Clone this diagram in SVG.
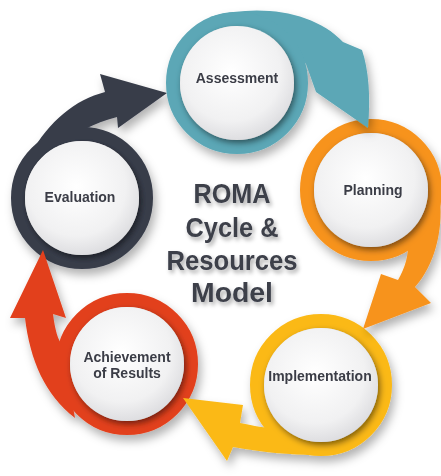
<svg xmlns="http://www.w3.org/2000/svg" width="441" height="476" viewBox="0 0 441 476">
<defs>
<filter id="sh" x="-30%" y="-30%" width="160%" height="160%"><feDropShadow dx="3" dy="6" stdDeviation="5" flood-color="#000" flood-opacity="0.3"/></filter>
<filter id="ish" x="-20%" y="-20%" width="140%" height="140%"><feDropShadow dx="2" dy="3" stdDeviation="3" flood-color="#000" flood-opacity="0.5"/></filter>
<filter id="tsh" x="-20%" y="-20%" width="140%" height="150%"><feDropShadow dx="2" dy="3" stdDeviation="2" flood-color="#000" flood-opacity="0.35"/></filter>
<radialGradient id="wg" cx="45%" cy="40%" r="62%"><stop offset="0" stop-color="#ffffff"/><stop offset="0.7" stop-color="#f1f1f2"/><stop offset="1" stop-color="#dcdcdf"/></radialGradient>
<style>
.ring{fill:none;stroke-width:14}
.inner{fill:url(#wg);filter:url(#ish)}
.lbl{font-family:"Liberation Sans",Arial,sans-serif;font-weight:bold;font-size:14px;fill:#3b3d46;text-anchor:middle}
.title{font-family:"Liberation Sans",Arial,sans-serif;font-weight:bold;font-size:28px;fill:#3c3f4a;text-anchor:middle;filter:url(#tsh)}
.teal{fill:#5ba7b6;stroke:#5ba7b6}
.orange{fill:#f7931e;stroke:#f7931e}
.yellow{fill:#fbb917;stroke:#fbb917}
.red{fill:#e2401c;stroke:#e2401c}
.dark{fill:#383d4a;stroke:#383d4a}
</style>
</defs>
<rect width="441" height="476" fill="#ffffff"/>
<g id="connectors"/>
<g id="evaluation" filter="url(#sh)">
<path class="dark" stroke-width="0" d="M30 155 C50 120 75 100 105 92 L100 74 L167 93 L118 128 L117 117 C105 120 95 124 85 129 Z"/>
<circle class="ring dark" style="fill:none" cx="82" cy="198" r="64"/>
<circle class="inner" cx="82" cy="198" r="57"/>
<text class="lbl" x="80" y="202">Evaluation</text>
</g>
<g id="achievement" filter="url(#sh)">
<path class="red" stroke-width="0" d="M75 418 C45 395 30 360 25 318 L10 318 L43 250 L66 318 L53 314 C55 330 58 340 62 345 Z"/>
<circle class="ring red" style="fill:none" cx="127" cy="364" r="64"/>
<circle class="inner" cx="127" cy="364" r="57"/>
<text class="lbl" x="127" y="362">Achievement</text>
<text class="lbl" x="127" y="378">of Results</text>
</g>
<g id="implementation" filter="url(#sh)">
<path class="yellow" stroke-width="0" d="M320 455 C290 455 260 452 233 447 L227 461 L183 398 L243 405 L240 423 C255 426 265 428 275 428 Z"/>
<circle class="ring yellow" style="fill:none" cx="321" cy="385" r="64"/>
<circle class="inner" cx="321" cy="385" r="57"/>
<text class="lbl" x="320" y="381">Implementation</text>
</g>
<g id="planning" filter="url(#sh)">
<path class="orange" stroke-width="0" d="M440 200 C443 230 435 265 415 287 L431 303 L363 329 L381 274 L398 280 C405 268 409 255 408 240 Z"/>
<circle class="ring orange" style="fill:none" cx="371" cy="190" r="64"/>
<circle class="inner" cx="371" cy="190" r="57"/>
<text class="lbl" x="373" y="195">Planning</text>
</g>
<g id="assessment" filter="url(#sh)">
<path class="teal" stroke-width="0" d="M210 17 C260 3 315 12 343 42 L362 50 Q372 80 368 128 L316 92 L306 64 C300 55 295 50 290 45 Z"/>
<circle class="ring teal" style="fill:none" cx="237" cy="83" r="64"/>
<circle class="inner" cx="237" cy="83" r="57"/>
<text class="lbl" x="237" y="83">Assessment</text>
</g>
<g id="title">
<text class="title" x="232" y="203" textLength="77" lengthAdjust="spacingAndGlyphs">ROMA</text>
<text class="title" x="232" y="237" textLength="93" lengthAdjust="spacingAndGlyphs">Cycle &amp;</text>
<text class="title" x="232" y="270" textLength="131" lengthAdjust="spacingAndGlyphs">Resources</text>
<text class="title" x="232" y="302" textLength="82" lengthAdjust="spacingAndGlyphs">Model</text>
</g>
</svg>
